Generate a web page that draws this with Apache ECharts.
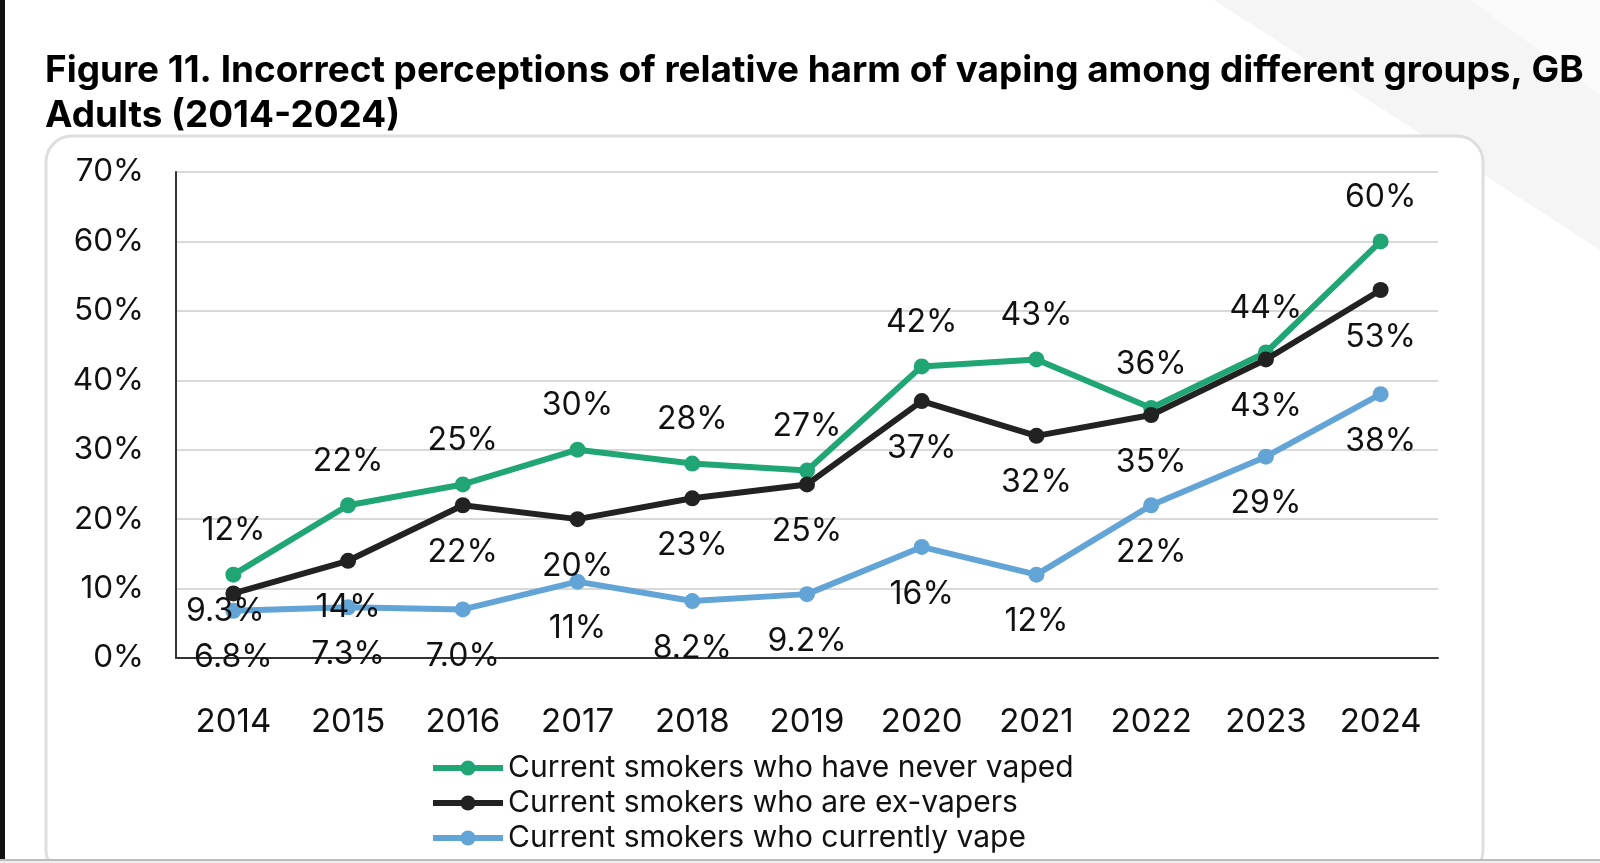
<!DOCTYPE html>
<html><head><meta charset="utf-8">
<script src="https://cdn.jsdelivr.net/npm/echarts@6/dist/echarts.min.js"></script>
<style>html,body{margin:0;padding:0;background:#fff}#c{width:1600px;height:863px}</style>
</head><body><div id="c"></div>
<script>
const years = ['2014','2015','2016','2017','2018','2019','2020','2021','2022','2023','2024'];
const neverVaped = [12, 22, 25, 30, 28, 27, 42, 43, 36, 44, 60];
const exVapers = [9.3, 14, 22, 20, 23, 25, 37, 32, 35, 43, 53];
const currentVape = [6.8, 7.3, 7.0, 11, 8.2, 9.2, 16, 12, 22, 29, 38];
const yTicks = [0, 10, 20, 30, 40, 50, 60, 70];
const seriesNames = ['Current smokers who have never vaped','Current smokers who are ex-vapers','Current smokers who currently vape'];

const fmt = v => (v < 10 ? v.toFixed(1) : Math.round(v)) + '%';
const FONT = 'Inter, "Noto Sans", sans-serif';
const chart = echarts.init(document.getElementById('c'), null, {renderer:'canvas'});
const lbl = (pos, d) => ({show:true, position:pos, distance:d, formatter:p=>fmt(p.value), fontFamily:FONT, fontSize:32, color:'#111'});

chart.setOption({
  animation:false,
  backgroundColor:'#fff',
  textStyle:{fontFamily:FONT},
  graphic:[
    {type:'polygon', z:-10, shape:{points:[[1214,0],[1600,0],[1600,250]]}, style:{fill:'#f5f5f5'}},
    {type:'polygon', z:-9, shape:{points:[[1470,0],[1600,0],[1600,95]]}, style:{fill:'#fafafa'}},
    {type:'rect', z:-8, shape:{x:46,y:136,width:1437,height:740,r:26}, style:{fill:'#fff',stroke:'#dedede',lineWidth:3}},
    {type:'rect', z:-5, shape:{x:0,y:0,width:5,height:863}, style:{fill:'#111'}},
    {type:'rect', z:-5, shape:{x:0,y:860,width:1600,height:3}, style:{fill:'#eeeeee'}},
    {type:'rect', z:-4, shape:{x:0,y:859,width:1600,height:2}, style:{fill:'#bdbdbd'}}
  ],
  title:{
    text:'Figure 11. Incorrect perceptions of relative harm of vaping among different groups, GB\nAdults (2014-2024)',
    left:40, top:43,
    textStyle:{fontFamily:FONT, fontWeight:'bold', fontSize:36.9, color:'#000', lineHeight:45}
  },
  legend:{
    orient:'vertical', left:425, top:748, itemWidth:70, itemHeight:19, itemGap:5,
    data:seriesNames,
    lineStyle:{width:6},
    textStyle:{fontFamily:FONT, fontSize:30, color:'#111', padding:[0,0,0,0]}
  },
  grid:{left:176, right:162, top:172, bottom:205},
  xAxis:{
    type:'category', data:years, boundaryGap:true,
    axisLine:{lineStyle:{color:'#333', width:2}},
    axisTick:{show:false},
    axisLabel:{fontFamily:FONT, fontSize:33, color:'#111', margin:48}
  },
  yAxis:{
    type:'value', min:0, max:70, interval:10,
    axisLine:{show:true, lineStyle:{color:'#333', width:2}},
    splitLine:{lineStyle:{color:'#d9d9d9', width:2}},
    axisLabel:{fontFamily:FONT, fontSize:31.5, color:'#111', margin:32, formatter:v=>v+'%'}
  },
  series:[
    {name:seriesNames[0], type:'line', data:neverVaped, color:'#1fa674', symbol:'circle', symbolSize:16,
     lineStyle:{width:6}, label:lbl('top', 20), z:3},
    {name:seriesNames[1], type:'line', color:'#222222', symbol:'circle', symbolSize:16,
     data:exVapers.map((v,i)=> i===0 ? {value:v, label:{position:'bottom', distance:-6, offset:[-8,0]}} : v),
     lineStyle:{width:6}, label:lbl('bottom', 23), z:4},
    {name:seriesNames[2], type:'line', data:currentVape, color:'#63a4d6', symbol:'circle', symbolSize:16,
     lineStyle:{width:6}, label:lbl('bottom', 23), z:2}
  ]
});
</script></body></html>
